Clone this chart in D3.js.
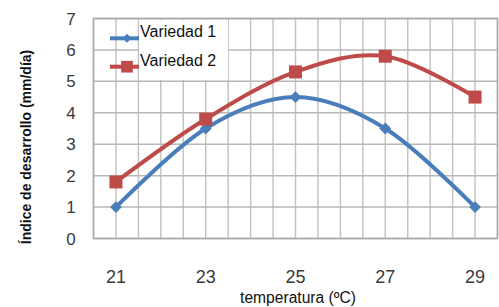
<!DOCTYPE html>
<html><head><meta charset="utf-8">
<script src="https://cdn.jsdelivr.net/npm/d3@7"></script>
<style>body{margin:0;background:#fff;}svg{display:block;}</style>
</head><body>
<script>
const temps = [21, 23, 25, 27, 29];
const variedad1 = [1, 3.5, 4.5, 3.5, 1];
const variedad2 = [1.8, 3.8, 5.3, 5.8, 4.5];
const seriesNames = ["Variedad 1", "Variedad 2"];
const yTicks = [0, 1, 2, 3, 4, 5, 6, 7];
const xTicks = [21, 23, 25, 27, 29];
const xTitle = "temperatura (ºC)";
const yTitle = "Índice de desarrollo (mm/día)";

const W = 499, H = 307;
const svg = d3.select("body").append("svg").attr("width", W).attr("height", H);
const x = d3.scaleLinear().domain([20.5, 29.5]).range([93.5, 497.5]);
const y = d3.scaleLinear().domain([0, 7]).range([238.5, 18.5]);
const font = "Arial, 'Liberation Sans', sans-serif";

// grid
const vgrid = d3.range(20.5, 29.51, 0.5);
svg.append("g").selectAll("line").data(vgrid).join("line")
  .attr("x1", d => x(d)).attr("x2", d => x(d)).attr("y1", y(7)).attr("y2", y(0))
  .attr("stroke", "#c4c4c4").attr("stroke-width", 1.5);
svg.append("g").selectAll("line").data(yTicks).join("line")
  .attr("x1", x(20.5)).attr("x2", x(29.5)).attr("y1", d => y(d)).attr("y2", d => y(d))
  .attr("stroke", "#b8b8b8").attr("stroke-width", 1.5);

// y tick labels
svg.append("g").selectAll("text").data(yTicks).join("text")
  .attr("x", 71).attr("y", d => y(d)).attr("dy", "0.36em").attr("text-anchor", "middle")
  .attr("font-family", font).attr("font-size", 17).attr("fill", "#3a3a3a").text(d => d);
// x tick labels
svg.append("g").selectAll("text").data(xTicks).join("text")
  .attr("x", d => x(d)).attr("y", 283).attr("text-anchor", "middle")
  .attr("font-family", font).attr("font-size", 18).attr("fill", "#3a3a3a").text(d => d);

// titles
svg.append("text").attr("x", 298).attr("y", 303).attr("text-anchor", "middle")
  .attr("font-family", font).attr("font-size", 15.6).attr("fill", "#111").text(xTitle);
svg.append("text").attr("transform", "translate(31,147) rotate(-90)").attr("text-anchor", "middle")
  .attr("font-family", font).attr("font-size", 14).attr("font-weight", "bold").attr("fill", "#111").text(yTitle);

const colors = ["#4a7ebb", "#be4b48"];
const data = [variedad1, variedad2];
const line = d3.line().x((d, i) => x(temps[i])).y(d => y(d)).curve(d3.curveCardinal.tension(0));

data.forEach((vals, k) => {
  svg.append("path").datum(vals).attr("d", line).attr("fill", "none")
    .attr("stroke", colors[k]).attr("stroke-width", 4).attr("stroke-linejoin", "round");
});
function marker(g, k, cx, cy, s) {
  if (k === 0) {
    g.append("path").attr("d", d3.symbol(d3.symbolDiamond2, 90 * s * s)()).attr("transform", `translate(${cx},${cy})`)
      .attr("fill", colors[0]);
  } else {
    const h = 6.5 * s;
    g.append("rect").attr("x", cx - h).attr("y", cy - h).attr("width", 2 * h).attr("height", 2 * h).attr("fill", colors[1]);
  }
}
data.forEach((vals, k) => {
  const g = svg.append("g");
  vals.forEach((v, i) => marker(g, k, x(temps[i]), y(v), 1));
});

// plot border
svg.append("rect").attr("x", x(20.5)).attr("y", y(7)).attr("width", x(29.5) - x(20.5)).attr("height", y(0) - y(7))
  .attr("fill", "none").attr("stroke", "#a8a8a8").attr("stroke-width", 1.5);

// legend
svg.append("rect").attr("x", 139).attr("y", 20).attr("width", 89).attr("height", 60).attr("fill", "#fff");
const legY = [38.3, 66.7];
seriesNames.forEach((name, k) => {
  const g = svg.append("g");
  g.append("line").attr("x1", 110).attr("x2", 139).attr("y1", legY[k]).attr("y2", legY[k])
    .attr("stroke", colors[k]).attr("stroke-width", 4);
  marker(g, k, 127, legY[k], k === 0 ? 0.75 : 0.9);
  g.append("text").attr("x", 140).attr("y", legY[k] - 1).attr("font-family", font).attr("font-size", 16)
    .attr("fill", "#111").text(name);
});
</script>
</body></html>
